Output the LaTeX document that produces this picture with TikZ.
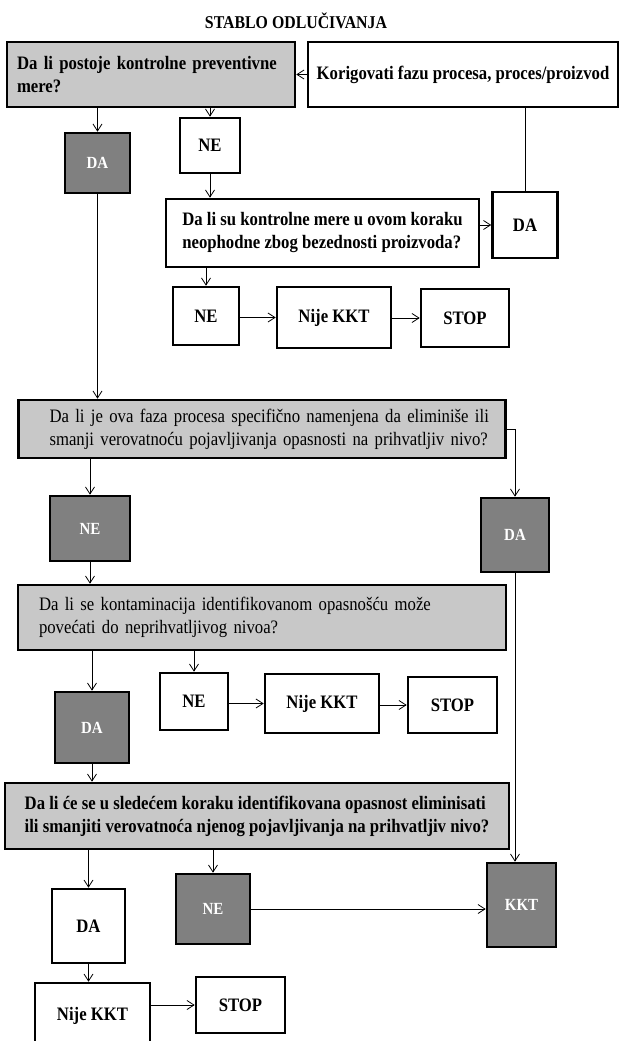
\documentclass[tikz,border=0pt]{standalone}
\usepackage{fontspec}
\setmainfont[FakeStretch=0.88]{Liberation Serif}
\usetikzlibrary{arrows.meta}
\definecolor{svetlosiva}{RGB}{200,200,200}
\definecolor{tamnosiva}{RGB}{128,128,128}

\begin{document}
\begin{tikzpicture}[x=1pt,y=-1pt,
  kutija/.style={draw, line width=2.6pt, inner sep=0pt, font=\bfseries\fontsize{19}{23}\selectfont},
  pitanje/.style={kutija, fill=svetlosiva, align=left},
  tanko/.style={font=\mdseries\fontsize{19}{23}\selectfont},
  odgovor/.style={kutija, fill=white},
  tamna/.style={kutija, fill=tamnosiva, text=white, font=\bfseries\fontsize{17}{20}\selectfont},
  strelica/.style={line width=0.8pt, -{Straight Barb[length=7pt,width=9pt]}},
  linija/.style={line width=0.8pt}]
\useasboundingbox (0,0) rectangle (621,1041);

% Naslov
\node[font=\bfseries\fontsize{18}{22}\selectfont] (naslov) at (296,21) {STABLO ODLUČIVANJA};

% Prvo pitanje
\node[pitanje, minimum width=288pt, minimum height=65pt, text width=268pt] (q1) at (151,74.5)
  {Da li postoje kontrolne preventivne\\mere?};
\node[odgovor, minimum width=310pt, minimum height=65pt] (kor) at (463,74.5)
  {Korigovati fazu procesa, proces/proizvod};
\node[tamna, minimum width=65pt, minimum height=60pt] (da1) at (97.5,163) {DA};
\node[odgovor, minimum width=60pt, minimum height=55pt] (ne1) at (210,145.5) {NE};

% Drugo pitanje
\node[odgovor, align=left, minimum width=313pt, minimum height=68pt] (q2) at (322.5,233)
  {Da li su kontrolne mere u ovom koraku\\neophodne zbog bezednosti proizvoda?};
\node[odgovor, minimum width=65pt, minimum height=66pt] (da2) at (525,225) {DA};
\node[odgovor, minimum width=66pt, minimum height=58pt] (ne2) at (206,316) {NE};
\node[odgovor, minimum width=114pt, minimum height=61pt] (nije2) at (334,317.5) {Nije KKT};
\node[odgovor, minimum width=88pt, minimum height=58pt] (stop2) at (465,318) {STOP};

% Trece pitanje
\node[pitanje, tanko, minimum width=487pt, minimum height=58pt, text width=425pt] (q3) at (262,429)
  {\mbox{Da li je ova faza procesa specifično namenjena da eliminiše ili}\\
   \mbox{smanji verovatnoću pojavljivanja opasnosti na prihvatljiv nivo?}};
\node[tamna, minimum width=80pt, minimum height=65pt] (ne3) at (90,528.5) {NE};
\node[tamna, minimum width=68pt, minimum height=74pt] (da3) at (515,535) {DA};

% Cetvrto pitanje
\node[pitanje, tanko, minimum width=488pt, minimum height=65pt, text width=446pt] (q4) at (262,617.5)
  {Da li se kontaminacija identifikovanom opasnošću može\\povećati do neprihvatljivog nivoa?};
\node[tamna, minimum width=74pt, minimum height=71pt] (da4) at (92,727.5) {DA};
\node[odgovor, minimum width=68pt, minimum height=57pt] (ne4) at (194,701.5) {NE};
\node[odgovor, minimum width=114pt, minimum height=59pt] (nije4) at (322,703.5) {Nije KKT};
\node[odgovor, minimum width=89pt, minimum height=56pt] (stop4) at (452.5,705) {STOP};

% Peto pitanje
\node[pitanje, minimum width=504pt, minimum height=66pt] (q5) at (257,816)
  {Da li će se u sledećem koraku identifikovana opasnost eliminisati\\ili smanjiti verovatnoća njenog pojavljivanja na prihvatljiv nivo?};
\node[odgovor, minimum width=73pt, minimum height=74pt] (da5) at (88.5,926) {DA};
\node[tamna, minimum width=74pt, minimum height=70pt] (ne5) at (213,909) {NE};
\node[tamna, minimum width=69pt, minimum height=84pt] (kkt) at (521.5,905) {KKT};
\node[odgovor, minimum width=115pt, minimum height=65pt] (nije5) at (92.5,1015.5) {Nije KKT};
\node[odgovor, minimum width=89pt, minimum height=56pt] (stop5) at (240.5,1005) {STOP};

% Veze
\draw[strelica] (kor.west) -- (q1.east);
\draw[strelica] (q1.south -| da1.north) -- (da1.north);
\draw[strelica] (q1.south -| ne1.north) -- (ne1.north);
\draw[strelica] (ne1.south) -- (ne1.south |- q2.north);
\draw[strelica] (q2.east |- da2.west) -- (da2.west);
\draw[linija] (da2.north) -- (da2.north |- kor.south);
\draw[strelica] (q2.south -| ne2.north) -- (ne2.north);
\draw[strelica] (ne2.east |- nije2.west) -- (nije2.west);
\draw[strelica] (nije2.east |- stop2.west) -- (stop2.west);
\draw[strelica] (da1.south) -- (da1.south |- q3.north);
\draw[strelica] (q3.south -| ne3.north) -- (ne3.north);
\draw[strelica] (q3.east) -| (da3.north);
\draw[strelica] (ne3.south) -- (ne3.south |- q4.north);
\draw[strelica] (da3.south) -- (da3.south |- kkt.north);
\draw[strelica] (q4.south -| da4.north) -- (da4.north);
\draw[strelica] (q4.south -| ne4.north) -- (ne4.north);
\draw[strelica] (ne4.east |- nije4.west) -- (nije4.west);
\draw[strelica] (nije4.east |- stop4.west) -- (stop4.west);
\draw[strelica] (da4.south) -- (da4.south |- q5.north);
\draw[strelica] (q5.south -| da5.north) -- (da5.north);
\draw[strelica] (q5.south -| ne5.north) -- (ne5.north);
\draw[strelica] (ne5.east) -- (ne5.east -| kkt.west);
\draw[strelica] (da5.south) -- (da5.south |- nije5.north);
\draw[strelica] (nije5.east |- stop5.west) -- (stop5.west);
\end{tikzpicture}
\end{document}
